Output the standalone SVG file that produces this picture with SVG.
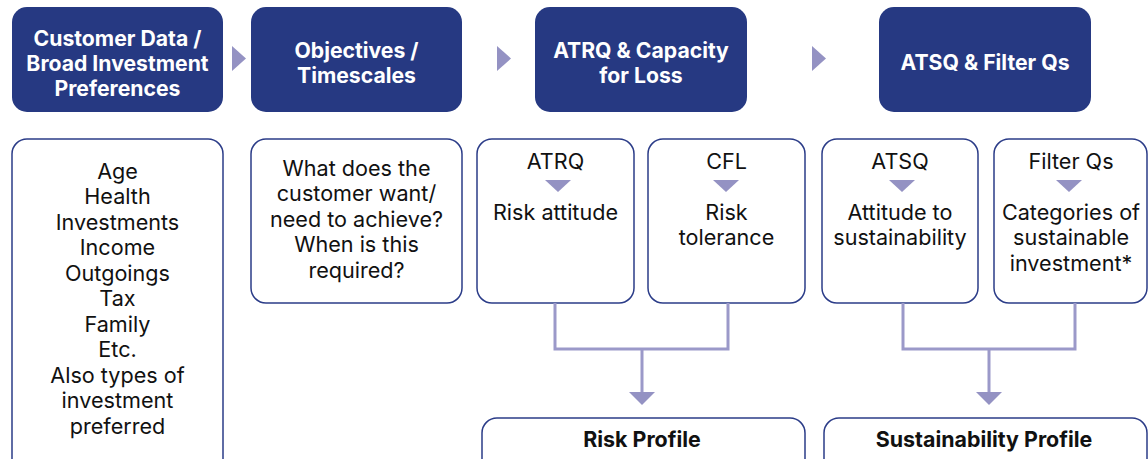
<svg xmlns="http://www.w3.org/2000/svg" width="1148" height="459" viewBox="0 0 1148 459">
<style>
.hdr{fill:#263982}
.box{fill:#fff;stroke:#2b3c88;stroke-width:1.5}
.ht{font-family:Inter,"Noto Sans",sans-serif;font-weight:700;font-size:21.2px;fill:#fff;text-anchor:middle}
.bt{font-family:Inter,"Noto Sans",sans-serif;font-size:21.6px;fill:#111;text-anchor:middle}
.pt{font-family:Inter,"Noto Sans",sans-serif;font-weight:700;font-size:21.4px;fill:#111;text-anchor:middle}
.tri{fill:#9492c3}
.con{fill:none;stroke:#9b99c9;stroke-width:3}
</style>
<g id="h1"><rect class="hdr" x="12" y="7" width="211" height="105" rx="15"/>
<text class="ht" x="117.5" y="45.5">Customer Data /</text><text class="ht" x="117.5" y="70.5">Broad Investment</text><text class="ht" x="117.5" y="95.5">Preferences</text></g>
<g id="h2"><rect class="hdr" x="251" y="7" width="211" height="105" rx="15"/>
<text class="ht" x="356.5" y="57.5">Objectives /</text><text class="ht" x="356.5" y="82.5">Timescales</text></g>
<g id="h3"><rect class="hdr" x="535" y="7" width="212" height="105" rx="15"/>
<text class="ht" x="641" y="57.5">ATRQ &amp; Capacity</text><text class="ht" x="641" y="82.5">for Loss</text></g>
<g id="h4"><rect class="hdr" x="879" y="7" width="212" height="105" rx="15"/>
<text class="ht" x="985" y="69.5">ATSQ &amp; Filter Qs</text></g>
<g id="steps">
<polygon class="tri" points="232,46 246,58.5 232,71"/>
<polygon class="tri" points="497,46 511,58.5 497,71"/>
<polygon class="tri" points="812,46 826,58.5 812,71"/>
</g>
<g id="b1"><rect class="box" x="12" y="139" width="211" height="340" rx="15"/>
<text class="bt" x="117.5" y="178.5">Age</text><text class="bt" x="117.5" y="204">Health</text><text class="bt" x="117.5" y="229.5">Investments</text><text class="bt" x="117.5" y="255">Income</text><text class="bt" x="117.5" y="280.5">Outgoings</text><text class="bt" x="117.5" y="306">Tax</text><text class="bt" x="117.5" y="331.5">Family</text><text class="bt" x="117.5" y="357">Etc.</text><text class="bt" x="117.5" y="382.5">Also types of</text><text class="bt" x="117.5" y="408">investment</text><text class="bt" x="117.5" y="433.5">preferred</text></g>
<g id="b2"><rect class="box" x="251" y="139" width="211" height="164" rx="15"/>
<text class="bt" x="356.5" y="175.5">What does the</text><text class="bt" x="356.5" y="201">customer want/</text><text class="bt" x="356.5" y="226.5">need to achieve?</text><text class="bt" x="356.5" y="252">When is this</text><text class="bt" x="356.5" y="277.5">required?</text></g>
<g id="b3"><rect class="box" x="477" y="139" width="157" height="164" rx="15"/>
<text class="bt" x="555.5" y="168.5">ATRQ</text><polygon class="tri" points="545,180 571,180 558,192"/>
<text class="bt" x="555.5" y="219.5">Risk attitude</text></g>
<g id="b4"><rect class="box" x="648" y="139" width="157" height="164" rx="15"/>
<text class="bt" x="726.5" y="168.5">CFL</text><polygon class="tri" points="713,180 739,180 726,192"/>
<text class="bt" x="726.5" y="219.5">Risk</text><text class="bt" x="726.5" y="245">tolerance</text></g>
<g id="b5"><rect class="box" x="822" y="139" width="156" height="164" rx="15"/>
<text class="bt" x="900" y="168.5">ATSQ</text><polygon class="tri" points="889,180 915,180 902,192"/>
<text class="bt" x="900" y="219.5">Attitude to</text><text class="bt" x="900" y="245">sustainability</text></g>
<g id="b6"><rect class="box" x="994" y="139" width="153" height="164" rx="15"/>
<text class="bt" x="1071" y="168.5">Filter Qs</text><polygon class="tri" points="1056,180 1082,180 1069,192"/>
<text class="bt" x="1071" y="219.5">Categories of</text><text class="bt" x="1071" y="245">sustainable</text><text class="bt" x="1071" y="270.5">investment*</text></g>
<g id="connectors">
<polyline class="con" points="555,303 555,349 728,349 728,303"/>
<line class="con" x1="642" y1="349" x2="642" y2="394"/>
<polygon class="tri" points="629,392 655,392 642,405"/>
<polyline class="con" points="903,303 903,349 1075,349 1075,303"/>
<line class="con" x1="989" y1="349" x2="989" y2="394"/>
<polygon class="tri" points="976,392 1002,392 989,405"/>
</g>
<g id="p1"><rect class="box" x="482" y="418" width="323" height="60" rx="15"/>
<text class="pt" x="642" y="447">Risk Profile</text></g>
<g id="p2"><rect class="box" x="824" y="418" width="323" height="60" rx="15"/>
<text class="pt" x="984" y="447">Sustainability Profile</text></g>
</svg>
